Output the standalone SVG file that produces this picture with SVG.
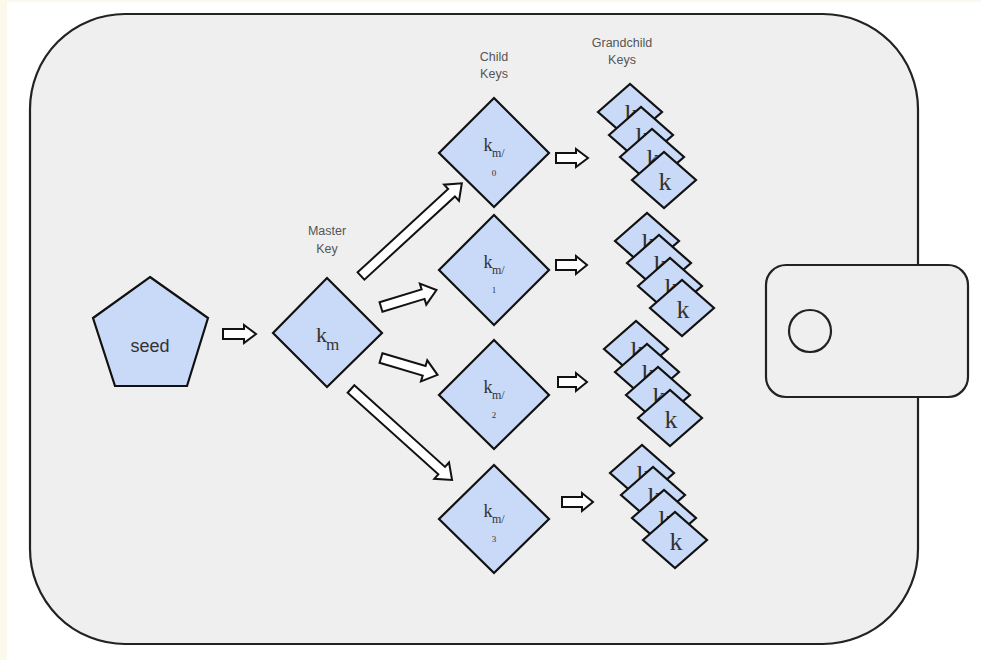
<svg xmlns="http://www.w3.org/2000/svg" width="981" height="660" viewBox="0 0 981 660">
<style>
.wallet{fill:#efefef;stroke:#222;stroke-width:2.2}
.node{fill:#c9daf8;stroke:#111;stroke-width:2.2;stroke-linejoin:miter}
.arr{fill:#ffffff;stroke:#111;stroke-width:2;stroke-linejoin:miter}
.lbl{font-family:"Liberation Sans",Arial,sans-serif;font-size:12.5px;fill:#555;text-anchor:middle}
.seed{font-family:"Liberation Sans",Arial,sans-serif;font-size:18px;fill:#333;text-anchor:middle}
.k{font-family:"Liberation Serif","Times New Roman",serif;fill:#333}
.kb{font-size:22px}
.km{font-size:17px}
.kc{font-size:18px;text-anchor:middle}
.ks{font-size:12px}
.kd{font-size:9px;text-anchor:middle}
.kg{font-size:26px;text-anchor:middle}
</style>
<rect x="0" y="0" width="981" height="660" fill="#ffffff"/>
<rect x="0" y="0" width="7" height="660" fill="#fdf8ec"/>
<rect x="0" y="0" width="981" height="2" fill="#fdf8ec"/>

<g id="wallet">
<rect class="wallet" x="30" y="14" width="888" height="630" rx="95" ry="95"/>
</g>
<g id="flap">
<rect class="wallet" x="766" y="265" width="202" height="132" rx="20" ry="20"/>
<circle cx="810" cy="331" r="21" fill="none" stroke="#222" stroke-width="2.2"/>
</g>

<g id="labels">
<text class="lbl" x="327" y="235">Master</text>
<text class="lbl" x="327" y="253">Key</text>
<text class="lbl" x="494" y="61">Child</text>
<text class="lbl" x="494" y="78">Keys</text>
<text class="lbl" x="622" y="47">Grandchild</text>
<text class="lbl" x="622" y="64">Keys</text>
</g>

<g id="seed">
<polygon class="node" points="150,277 208,318 187,386 115,386 93,318"/>
<text class="seed" x="150" y="352">seed</text>
</g>

<g id="master">
<polygon class="node" points="327,278 382,333 327,387 273,333"/>
<text class="k kb" x="316" y="342">k</text>
<text class="k km" x="326" y="350">m</text>
</g>

<g id="child0">
<polygon class="node" points="494,98 549,153 494,207 439,153"/>
<text class="k kc" x="488" y="151">k</text>
<text class="k ks" x="492" y="157">m/</text>
<text class="k kd" x="494" y="176">0</text>
</g>
<g id="child1">
<polygon class="node" points="494,215 549,270 494,325 439,270"/>
<text class="k kc" x="488" y="268">k</text>
<text class="k ks" x="492" y="274">m/</text>
<text class="k kd" x="494" y="293">1</text>
</g>
<g id="child2">
<polygon class="node" points="494,340 549,395 494,449 439,395"/>
<text class="k kc" x="488" y="393">k</text>
<text class="k ks" x="492" y="399">m/</text>
<text class="k kd" x="494" y="418">2</text>
</g>
<g id="child3">
<polygon class="node" points="494,465 549,519 494,573 439,519"/>
<text class="k kc" x="488" y="517">k</text>
<text class="k ks" x="492" y="523">m/</text>
<text class="k kd" x="494" y="542">3</text>
</g>

<g id="grandchildren0">
<polygon class="node" points="598,112 630,84 662,112 630,140"/>
<text class="k kg" x="631" y="122">k</text>
<polygon class="node" points="609,135 641,107 673,135 641,163"/>
<text class="k kg" x="642" y="145">k</text>
<polygon class="node" points="620,157 652,129 684,157 652,185"/>
<text class="k kg" x="653" y="167">k</text>
<polygon class="node" points="632,180 664,152 696,180 664,208"/>
<text class="k kg" x="665" y="190">k</text>
</g>
<g id="grandchildren1">
<polygon class="node" points="615,241 647,213 679,241 647,269"/>
<text class="k kg" x="648" y="251">k</text>
<polygon class="node" points="627,263 659,235 691,263 659,291"/>
<text class="k kg" x="660" y="273">k</text>
<polygon class="node" points="638,286 670,258 702,286 670,314"/>
<text class="k kg" x="671" y="296">k</text>
<polygon class="node" points="650,308 682,280 714,308 682,336"/>
<text class="k kg" x="683" y="318">k</text>
</g>
<g id="grandchildren2">
<polygon class="node" points="604,349 636,321 668,349 636,377"/>
<text class="k kg" x="637" y="359">k</text>
<polygon class="node" points="615,372 647,344 679,372 647,400"/>
<text class="k kg" x="648" y="382">k</text>
<polygon class="node" points="626,395 658,367 690,395 658,423"/>
<text class="k kg" x="659" y="405">k</text>
<polygon class="node" points="638,418 670,390 702,418 670,446"/>
<text class="k kg" x="671" y="428">k</text>
</g>
<g id="grandchildren3">
<polygon class="node" points="610,473 642,445 674,473 642,501"/>
<text class="k kg" x="643" y="483">k</text>
<polygon class="node" points="621,495 653,467 685,495 653,523"/>
<text class="k kg" x="654" y="505">k</text>
<polygon class="node" points="632,518 664,490 696,518 664,546"/>
<text class="k kg" x="665" y="528">k</text>
<polygon class="node" points="643,540 675,512 707,540 675,568"/>
<text class="k kg" x="676" y="550">k</text>
</g>

<g id="connectors">
<path class="arr" transform="translate(223,334)" d="M0,-5 H21 V-9 L33,0 L21,9 V5 H0 Z"/>
<path class="arr" transform="translate(361,276) rotate(-42.6)" d="M0,-5 H123 V-11 L137,0 L123,11 V5 H0 Z"/>
<path class="arr" transform="translate(381,307) rotate(-17)" d="M0,-5 H44 V-11 L58,0 L44,11 V5 H0 Z"/>
<path class="arr" transform="translate(381,358) rotate(16.6)" d="M0,-5 H45 V-11 L59,0 L45,11 V5 H0 Z"/>
<path class="arr" transform="translate(351,389) rotate(42)" d="M0,-5 H122 V-11 L136,0 L122,11 V5 H0 Z"/>
<path class="arr" transform="translate(556,158)" d="M0,-5 H20 V-9 L32,0 L20,9 V5 H0 Z"/>
<path class="arr" transform="translate(556,265)" d="M0,-5 H20 V-9 L31,0 L20,9 V5 H0 Z"/>
<path class="arr" transform="translate(558,382)" d="M0,-5 H18 V-9 L29,0 L18,9 V5 H0 Z"/>
<path class="arr" transform="translate(562,502)" d="M0,-5 H20 V-9 L31,0 L20,9 V5 H0 Z"/>
</g>
</svg>
